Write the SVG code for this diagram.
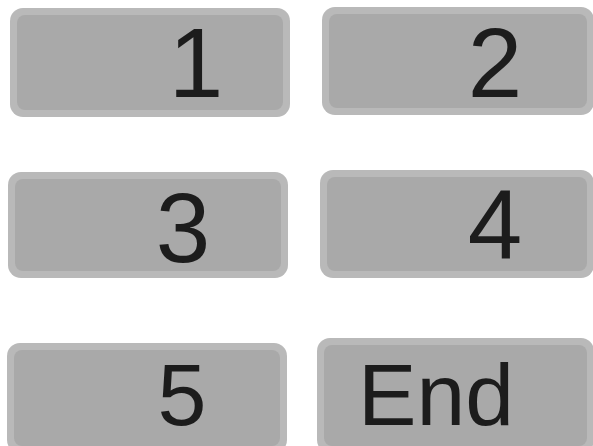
<svg xmlns="http://www.w3.org/2000/svg" width="593" height="446" viewBox="0 0 593 446">
<style>
.outer{fill:#b9b9b9}
.inner{fill:#a9a9a9}
.seg{font-family:"Liberation Sans",Arial,sans-serif;font-size:98px;fill:#1c1c1c;text-anchor:middle}
.low{font-size:88px}
</style>
<rect width="593" height="446" fill="#ffffff"/>
<g id="panel1">
<rect class="outer" x="10" y="8" width="280" height="109" rx="13"/>
<rect class="inner" x="17" y="15" width="266" height="95" rx="8"/>
<text class="seg" x="196" y="97">1</text>
</g>
<g id="panel2">
<rect class="outer" x="322" y="7" width="272" height="108" rx="13"/>
<rect class="inner" x="329" y="14" width="258" height="94" rx="8"/>
<text class="seg" x="495" y="97">2</text>
</g>
<g id="panel3">
<rect class="outer" x="8" y="172" width="280" height="106" rx="13"/>
<rect class="inner" x="15" y="179" width="266" height="92" rx="8"/>
<text class="seg" x="183" y="262">3</text>
</g>
<g id="panel4">
<rect class="outer" x="320" y="170" width="274" height="108" rx="13"/>
<rect class="inner" x="327" y="177" width="260" height="94" rx="8"/>
<text class="seg" x="495" y="258">4</text>
</g>
<g id="panel5">
<rect class="outer" x="7" y="343" width="280" height="110" rx="13"/>
<rect class="inner" x="14" y="350" width="266" height="96" rx="8"/>
<text class="seg low" x="182" y="425">5</text>
</g>
<g id="panel6">
<rect class="outer" x="317" y="338" width="277" height="115" rx="13"/>
<rect class="inner" x="324" y="345" width="263" height="101" rx="8"/>
<text class="seg low" x="436" y="425" textLength="156" lengthAdjust="spacingAndGlyphs">End</text>
</g>
<g id="connectors"></g>
</svg>
